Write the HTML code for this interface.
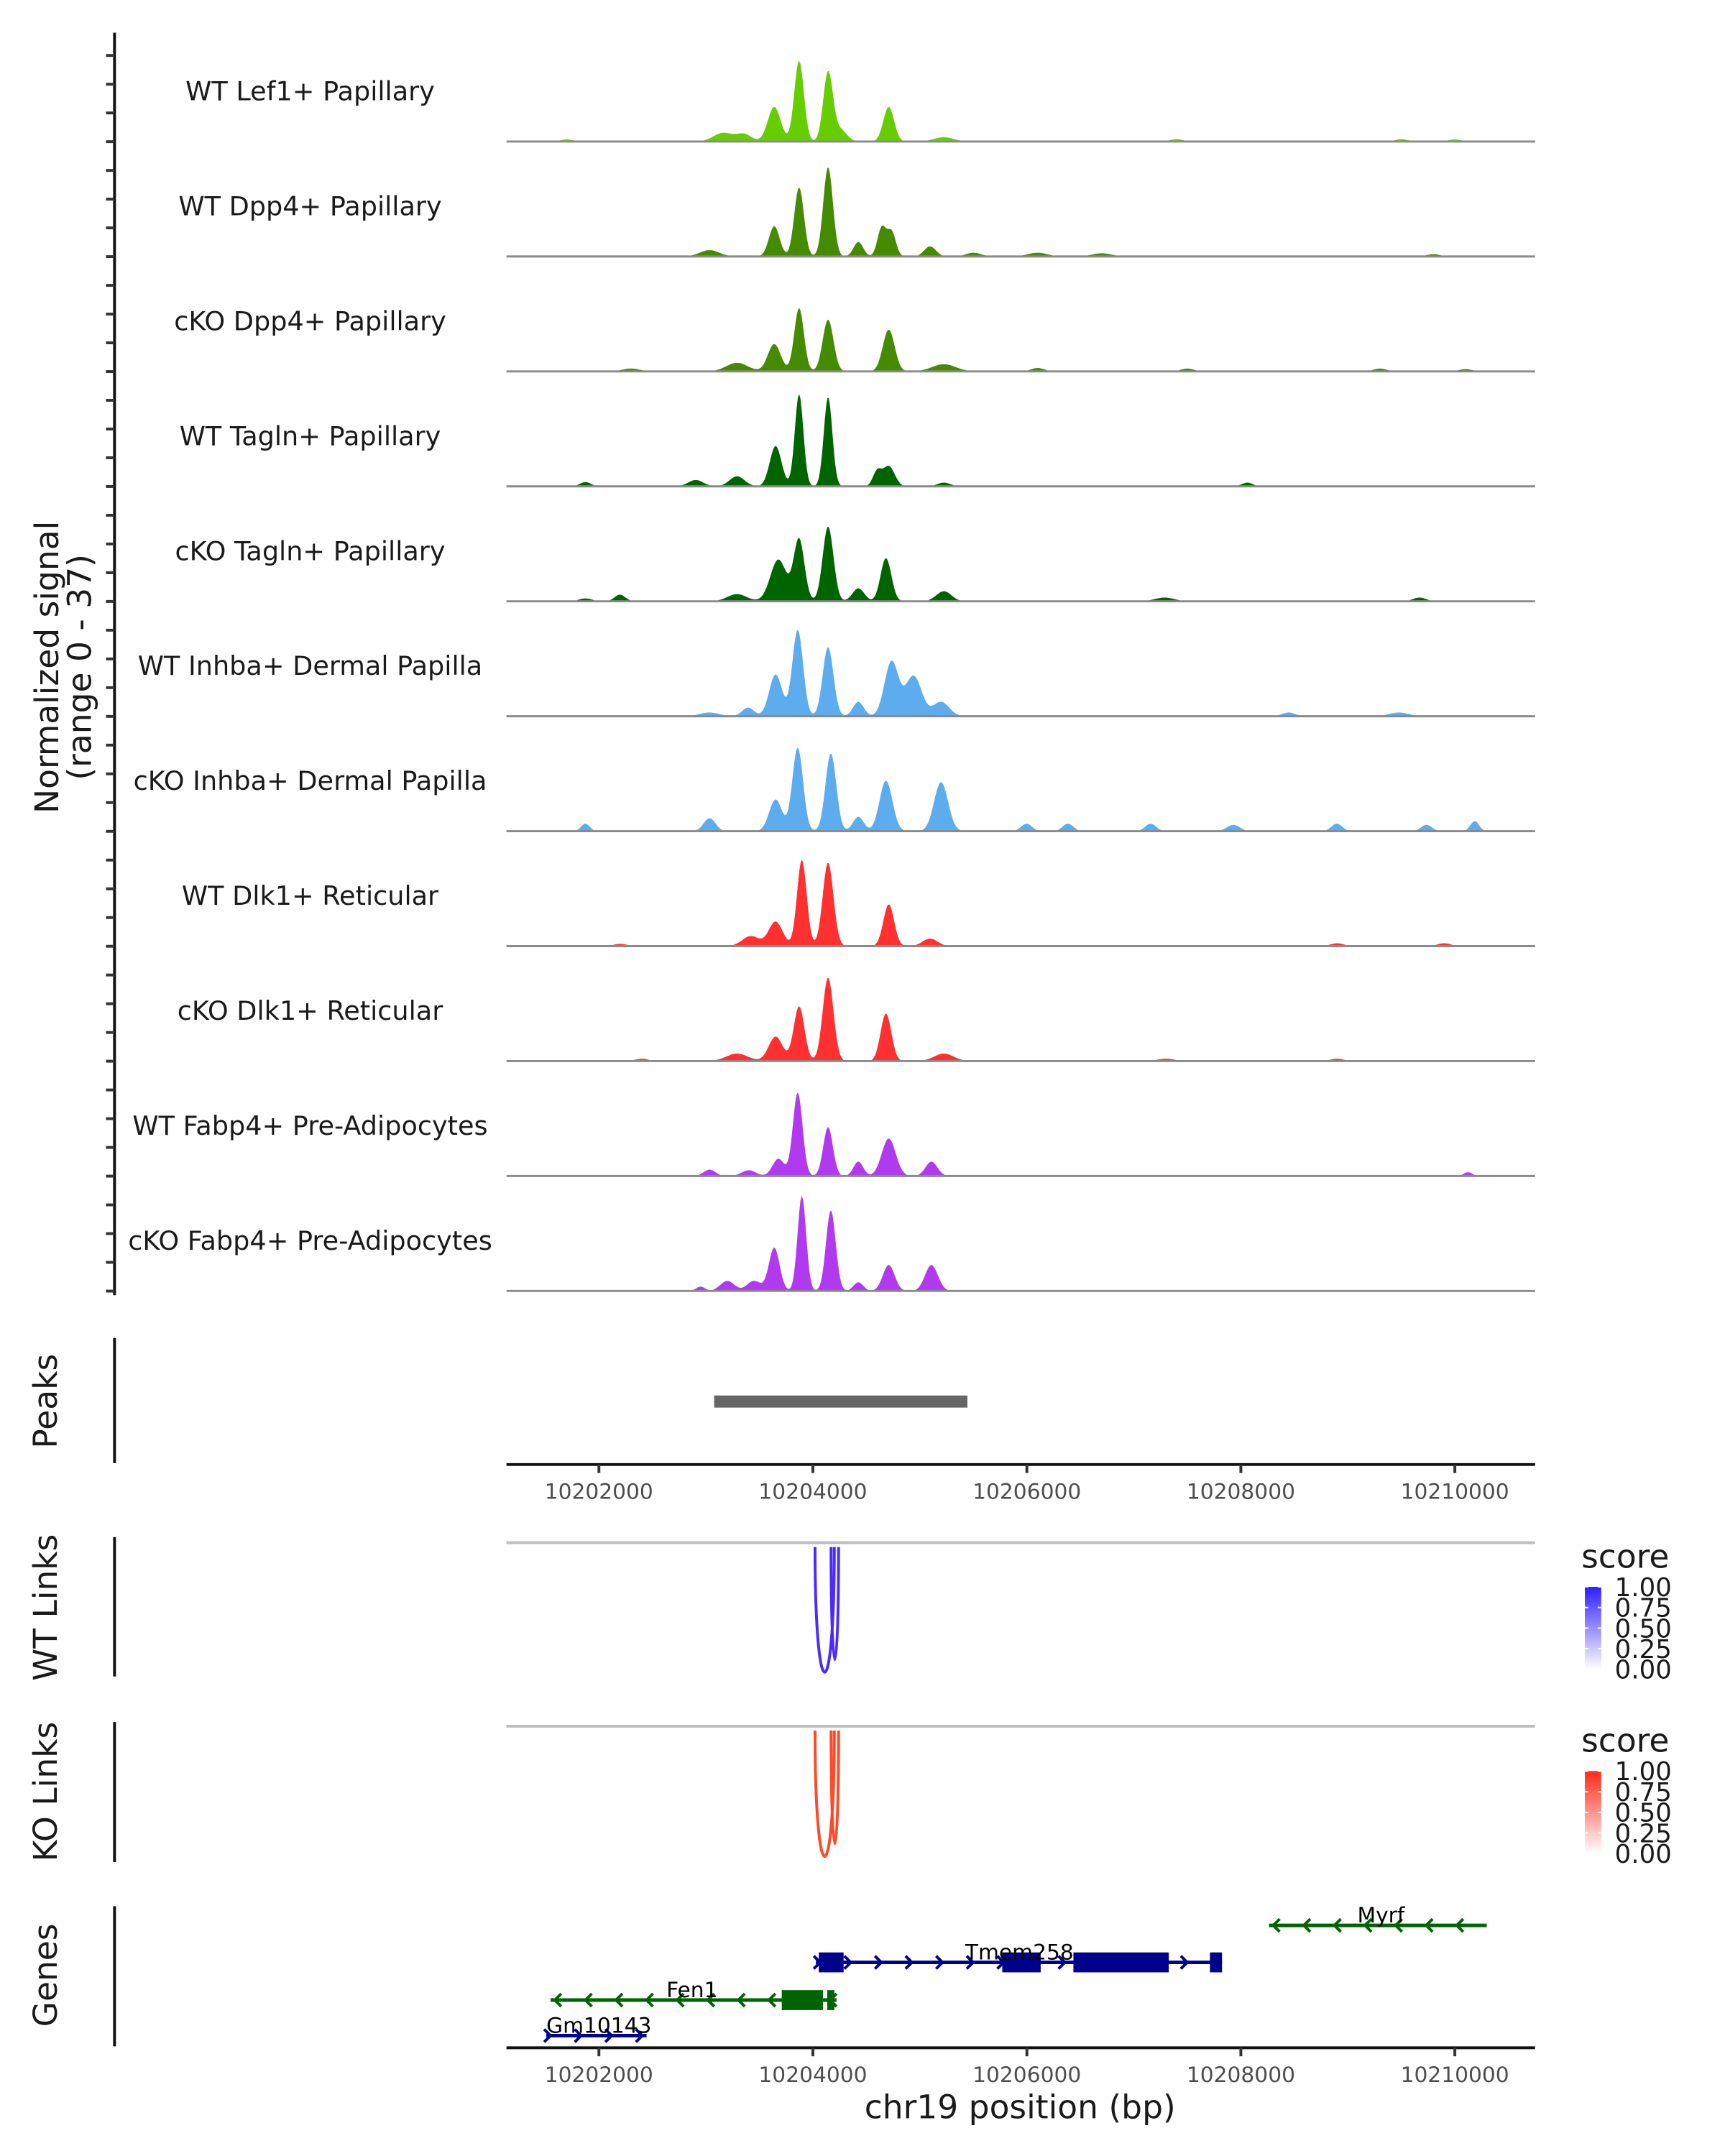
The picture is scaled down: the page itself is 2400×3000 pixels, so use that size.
<!DOCTYPE html>
<html><head><meta charset="utf-8"><style>
html,body{margin:0;padding:0;background:#fff;}
svg{display:block;font-family:"DejaVu Sans","Liberation Sans",sans-serif;}
</style></head><body>
<svg id="fig" width="2400" height="3000" viewBox="0 0 2400 3000" xmlns="http://www.w3.org/2000/svg">
<g transform="scale(0.9897)">
<g id="static">
 <text transform="translate(82,938) rotate(-90)" text-anchor="middle" font-size="46" fill="#1a1a1a">Normalized signal</text>
 <text transform="translate(128,938) rotate(-90)" text-anchor="middle" font-size="46" fill="#1a1a1a">(range 0 - 37)</text>
 <text transform="translate(80,1970) rotate(-90)" text-anchor="middle" font-size="46" fill="#1a1a1a">Peaks</text>
 <text transform="translate(80,2260) rotate(-90)" text-anchor="middle" font-size="46" fill="#1a1a1a">WT Links</text>
 <text transform="translate(80,2519) rotate(-90)" text-anchor="middle" font-size="46" fill="#1a1a1a">KO Links</text>
 <text transform="translate(80,2777) rotate(-90)" text-anchor="middle" font-size="46" fill="#1a1a1a">Genes</text>
 <line x1="161" y1="46" x2="161" y2="1821" stroke="#111" stroke-width="4"/>
 <line x1="161" y1="1881" x2="161" y2="2057" stroke="#111" stroke-width="4"/>
 <line x1="161" y1="2161" x2="161" y2="2357" stroke="#111" stroke-width="4"/>
 <line x1="161" y1="2421" x2="161" y2="2618" stroke="#111" stroke-width="4"/>
 <line x1="161" y1="2680" x2="161" y2="2877" stroke="#111" stroke-width="4"/>
 <text x="1434" y="2978" text-anchor="middle" font-size="46" fill="#1a1a1a">chr19 position (bp)</text>
</g>
<g id="dyn"></g>
</g>
</svg>
<script>
// ---- data ----
const trackLabels = ["WT Lef1+ Papillary","WT Dpp4+ Papillary","cKO Dpp4+ Papillary","WT Tagln+ Papillary","cKO Tagln+ Papillary","WT Inhba+ Dermal Papilla","cKO Inhba+ Dermal Papilla","WT Dlk1+ Reticular","cKO Dlk1+ Reticular","WT Fabp4+ Pre-Adipocytes","cKO Fabp4+ Pre-Adipocytes"];
const trackColors = ["#66CD00","#458B00","#458B00","#006400","#006400","#5CACEE","#5CACEE","#FF3030","#FF3030","#B23AEE","#B23AEE"];
// peaks per track: [center bp, height (0-37), width bp]
const peaksLef1 = [[10203871,28,45],[10204142,24,45],[10203639,12,60],[10204709,12,50],[10203162,3,90],[10203356,2.5,70],[10204258,4,60],[10205224,1.5,90],[10201700,0.7,60],[10209500,0.8,60],[10210000,0.7,60],[10207400,0.8,60]];
const peaksDpp4 = [[10203871,24,45],[10204142,31,45],[10203639,10.5,50],[10204644,10,40],[10204735,8.5,40],[10204425,5,45],[10205095,3.5,55],[10203034,2.2,90],[10205500,1.3,70],[10206100,1.3,90],[10206700,1.1,90],[10209800,0.8,60]];
const peaksCkoDpp4 = [[10203871,22,45],[10204142,18,50],[10203639,9.5,60],[10204709,14.5,55],[10203291,3,100],[10205224,2.5,110],[10202300,1,80],[10206100,1.2,60],[10207500,1,60],[10209300,1,60],[10210100,0.8,60]];
const peaksTagln = [[10203871,32,40],[10204142,31,40],[10203652,14,55],[10204709,7,55],[10204600,5,40],[10203291,3.5,70],[10202905,2.2,70],[10201874,1.5,50],[10208059,1.3,50],[10205224,1.3,60]];
const peaksCkoTagln = [[10204142,26,50],[10203871,21.5,50],[10203678,14.5,75],[10204683,15,50],[10204425,4.5,55],[10205224,3.5,70],[10203291,2.5,90],[10202196,2.3,50],[10207286,1.3,90],[10209670,1.3,60],[10201874,1,60]];
const peaksInhba = [[10203858,30,50],[10204142,24,50],[10203652,14.5,60],[10204735,19,65],[10204941,14,75],[10205198,5,75],[10204425,5,50],[10203394,3,55],[10203034,1.3,90],[10208446,1.3,60],[10209477,1.3,90]];
const peaksCkoInhba = [[10203858,29,50],[10204168,27,50],[10204683,17.5,60],[10205198,17,65],[10203652,11,60],[10204425,5,50],[10203034,4.5,55],[10201874,2.6,40],[10205997,2.6,50],[10206384,2.6,50],[10207157,2.6,50],[10207930,2.2,60],[10208897,2.6,50],[10209735,2.2,50],[10210186,3.5,40]];
const peaksDlk1 = [[10203897,30,45],[10204142,29,50],[10204709,14.5,50],[10203652,8.5,65],[10203420,3.5,80],[10205095,2.6,70],[10202200,0.8,60],[10208900,1,60],[10209900,1,60]];
const peaksCkoDlk1 = [[10204142,29,50],[10203871,19,50],[10204683,16.5,50],[10203652,8.5,65],[10203291,2.6,100],[10205224,2.6,90],[10202400,0.8,60],[10207300,0.8,80],[10208900,0.8,60]];
const peaksFabp4 = [[10203858,29,45],[10204142,17,45],[10204709,13,65],[10204425,5,45],[10203678,6,55],[10205108,5,55],[10203034,2.2,55],[10203400,2,65],[10210122,1.3,40]];
const peaksCkoFabp4 = [[10203897,33,40],[10204168,28,45],[10203639,15,50],[10204709,9,55],[10205108,9,60],[10204425,3,45],[10203200,3.5,65],[10203450,3.5,65],[10202950,1.5,40]];
const trackPeaks = [peaksLef1,peaksDpp4,peaksCkoDpp4,peaksTagln,peaksCkoTagln,peaksInhba,peaksCkoInhba,peaksDlk1,peaksCkoDlk1,peaksFabp4,peaksCkoFabp4];
const xTicks = [10202000,10204000,10206000,10208000,10210000];
const peakRegions = [[10203077,10205444]];
const wtLinks = [[10204020,10204200,1.0],[10204170,10204240,0.9]];
const koLinks = [[10204020,10204200,1.0],[10204170,10204240,0.9]];
const legendTicks = ["1.00","0.75","0.50","0.25","0.00"];
const geneNames = ["Myrf","Tmem258","Fen1","Gm10143"];
const geneStarts = [10208263,10204028,10201548,10201508];
const geneEnds = [10210298,10207824,10204221,10202445];
const geneStrand = [-1,1,-1,1];
const geneColors = ["#006400","#00008B","#006400","#00008B"];
const geneExons = [[],[[10204055,10204287],[10205770,10206129],[10206435,10207326],[10207711,10207824]],[[10203709,10204094],[10204134,10204201]],[]];
const geneLabelPos = [10209310,10205930,10202870,10202000];

// ---- scales ----
const X0=712, X1=2158, BP0=10201136, BP1=10210750;
const x = bp => X0 + (bp-BP0)/(BP1-BP0)*(X1-X0);
const baseY = i => 199 + i*161.6;
const yScale = v => v/37*150;
const NS="http://www.w3.org/2000/svg";
const dyn=document.getElementById('dyn');
function mk(tag, attrs, parent){const e=document.createElementNS(NS,tag);for(const k in attrs)e.setAttribute(k,attrs[k]);(parent||dyn).appendChild(e);return e;}

// ---- coverage tracks ----
for(let i=0;i<trackLabels.length;i++){
  const g=mk('g',{});
  
  
  const b=baseY(i);
  let d='M'+X0+','+b;
  for(let bp=BP0; bp<=10210500; bp+=12){
    let v=0;
    for(const p of trackPeaks[i]){const z=(bp-p[0])/p[2]; v+=p[1]*Math.exp(-0.5*z*z);}
    if(v<0.35)v=0;
    d+=' L'+x(bp).toFixed(1)+','+(b-yScale(Math.min(v,37))).toFixed(1);
  }
  d+=' L'+x(10210500)+','+b+' Z';
  const a=mk('path',{d:d,fill:trackColors[i]},g);
  
  
  const l=mk('line',{x1:X0,x2:X1,y1:b,y2:b,stroke:'#8a8a8a','stroke-width':3},g);
  
  
  const t=mk('text',{x:436,y:b-58,'text-anchor':'middle','font-size':37,fill:'#1a1a1a'},g);
  t.textContent=trackLabels[i];
  
  
}
// y ticks
for(let y=78; y<=1821; y+=40.4){
  const tk=mk('line',{x1:149,x2:161,y1:y,y2:y,stroke:'#333','stroke-width':4});
  
  
}
// peaks
for(const r of peakRegions){
  const pr=mk('rect',{x:x(r[0]),y:1962,width:x(r[1])-x(r[0]),height:17,fill:'#666'});
  
  
}
// x axes
function xAxis(y){
  const ax=mk('line',{x1:X0,x2:X1,y1:y,y2:y,stroke:'#111','stroke-width':4});
  
  
  for(const t of xTicks){
    const tk=mk('line',{x1:x(t),x2:x(t),y1:y,y2:y+12,stroke:'#333','stroke-width':4});
    
    
    const tl=mk('text',{x:x(t),y:y+48,'text-anchor':'middle','font-size':30,fill:'#4d4d4d'});
    tl.textContent=t;
    
    
  }
}
xAxis(2059); xAxis(2879);
// links
function linkPanel(top,bottom,links,color,legendTop,gradId,c1){
  const gl=mk('line',{x1:X0,x2:X1,y1:top,y2:top,stroke:'#bebebe','stroke-width':4});
  
  
  for(const L of links){
    const depth=(bottom-top-6)*L[2];
    const c=top+6+depth/0.75;
    const p=mk('path',{d:`M${x(L[0])},${top+6} C${x(L[0])},${c} ${x(L[1])},${c} ${x(L[1])},${top+6}`,fill:'none',stroke:color,'stroke-width':4});
    
    
  }
  const defs=mk('defs',{});
  const lg=mk('linearGradient',{id:gradId,x1:0,y1:1,x2:0,y2:0},defs);
  mk('stop',{offset:0,'stop-color':'#ffffff'},lg);
  mk('stop',{offset:1,'stop-color':c1},lg);
  const st=mk('text',{x:2223,y:legendTop,'font-size':46,fill:'#1a1a1a'});
  st.textContent='score';
  
  
  const bt=legendTop+27, bh=116;
  const bar=mk('rect',{x:2228,y:bt,width:23,height:bh,fill:`url(#${gradId})`});
  
  
  legendTicks.forEach((lab,k)=>{
    const yy=bt+k*bh/4;
    mk('line',{x1:2228,x2:2233,y1:yy,y2:yy,stroke:'#fff','stroke-width':2});
    mk('line',{x1:2246,x2:2251,y1:yy,y2:yy,stroke:'#fff','stroke-width':2});
    const tl=mk('text',{x:2270,y:yy+13,'font-size':36,fill:'#1a1a1a'});
    tl.textContent=lab;
    
    
  });
}
linkPanel(2169,2351,wtLinks,'#4B2BFF',2204,'gblue','#2D1EFF');
linkPanel(2427,2610,koLinks,'#FF4A2A',2463,'gred','#FF2A1A');
// genes
const geneRowY=[2707,2759,2812,2862];
geneNames.forEach((nm,i)=>{
  const g=mk('g',{});
  
  
  const y=geneRowY[i], c=geneColors[i];
  const xs=x(geneStarts[i]), xe=x(geneEnds[i]);
  mk('line',{x1:xs,x2:xe,y1:y,y2:y,stroke:c,'stroke-width':5},g);
  for(let xx=xs+6; xx<=xe; xx+=43){
    const dx=geneStrand[i]*9;
    mk('path',{d:`M${xx-dx},${y-9} L${xx},${y} L${xx-dx},${y+9}`,fill:'none',stroke:c,'stroke-width':4},g);
  }
  for(const ex of geneExons[i]){
    const r=mk('rect',{x:x(ex[0]),y:y-14,width:x(ex[1])-x(ex[0]),height:28,fill:c},g);
    
    
  }
  const t=mk('text',{x:x(geneLabelPos[i]),y:y-4,'text-anchor':'middle','font-size':30,fill:'#000'},g);
  t.textContent=nm;
  
  
});
</script>
</body></html>
